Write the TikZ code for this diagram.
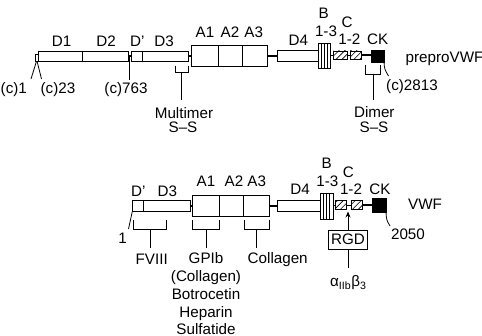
\documentclass[tikz,border=0pt]{standalone}
\usepackage{fontspec}
\setmainfont{Liberation Sans}
\usetikzlibrary{patterns.meta,arrows.meta}
\begin{document}
\begin{tikzpicture}[x=1pt,y=-1pt,
  dom/.style={draw, line width=0.8pt, rectangle, inner sep=0pt, outer sep=0pt, fill=white, anchor=north west},
  hatch/.style={dom, pattern={Lines[angle=45,distance=4.2pt,line width=0.6pt]}},
  lbl/.style={anchor=base, inner sep=0pt, font=\fontsize{15.2}{17}\selectfont},
  conn/.style={line width=2pt},
  thinl/.style={line width=0.8pt},
  lead/.style={line width=0.8pt}]
\useasboundingbox (0,0) rectangle (482,336);
% ================= preproVWF =================
\node[dom, minimum width=3.5pt, minimum height=7pt, line width=1pt] (sp) at (35,55) {};
\node[dom, minimum width=90pt, minimum height=10pt] (d12) at (38.5,51) {};
\node[dom, minimum width=57.3pt, minimum height=10pt] (dpd3) at (131,51) {};
\node[dom, minimum width=76pt, minimum height=21pt] (a) at (191.7,45.5) {};
\node[dom, minimum width=41.5pt, minimum height=11pt] (d4) at (277,50.5) {};
\node[dom, minimum width=12.2pt, minimum height=25pt] (b) at (318.5,43.5) {};
\node[hatch, minimum width=13.7pt, minimum height=8pt] (c1) at (333.3,51) {};
\node[hatch, minimum width=11.5pt, minimum height=8pt] (c2) at (350,51) {};
\node[dom, fill=black, minimum width=13pt, minimum height=12pt] (ck) at (371,50) {};
% dividers
\draw[thinl] (82.7,51) -- (82.7,61);
\draw[thinl] (142.3,51) -- (142.3,61);
\draw[thinl] (218.3,45.5) -- (218.3,66.5);
\draw[thinl] (242.3,45.5) -- (242.3,66.5);
\foreach \xx in {321.5,324.5,327.5} \draw[line width=1pt] (\xx,43.5) -- (\xx,68.5);
% connectors
\draw[conn] (d12.east) -- (dpd3.west);
\draw[conn] (dpd3.east) -- (a.west);
\draw[conn] (a.east) -- (a.east -| d4.west);
\draw[thinl] (b.east |- c1.west) -- (c1.west);
\draw[thinl] (c1.east) -- (c2.west);
\draw[conn] (c2.east) -- (c2.east -| ck.west);
% labels
\node[lbl] (tD1) at (61.7,46.7) {D1};
\node[lbl] (tD2) at (106,46.7) {D2};
\node[lbl] (tDp) at (137.3,46.7) {D'};
\node[lbl] (tD3) at (164,46.7) {D3};
\node[lbl] (tA1) at (205,37.3) {A1};
\node[lbl] (tA2) at (230,37.3) {A2};
\node[lbl] (tA3) at (253.7,37.3) {A3};
\node[lbl] (tD4) at (298.3,45.7) {D4};
\node[lbl] (tB) at (323.7,19) {B};
\node[lbl] (tB13) at (326,36.7) {1-3};
\node[lbl] (tC) at (347,27.7) {C};
\node[lbl] (tC12) at (349.3,45) {1-2};
\node[lbl] (tCK) at (377.7,45) {CK};
\node[lbl, anchor=base west] (tpre) at (405.5,62.3) {preproVWF};
% leaders and brackets
\coordinate (l1) at (31,79);
\coordinate (l23) at (41.5,79);
\draw[lead] (sp.south) ++(-0.5,0) -- (l1);
\draw[lead] (sp.south) ++(0.5,0) -- (l23);
\node[lbl, anchor=base west] (tc1) at (0.5,94) {(c)1};
\node[lbl] (tc23) at (58,94) {(c)23};
\coordinate (l763) at (129.5,80);
\draw[lead] (129.5,57) -- (l763);
\node[lbl] (tc763) at (126,94) {(c)763};
\coordinate (mstem) at (181.7,100);
\draw[lead] (175,66) -- (175,72.7) -- (188.3,72.7) -- (188.3,66);
\draw[lead] (181.7,72.7) -- (mstem);
\node[lbl] (tmul) at (184,118.3) {Multimer};
\node[lbl] (tmss) at (183,133) {S–S};
\coordinate (dstem) at (373,100);
\draw[lead] (365,65) -- (365,74) -- (380.5,74) -- (380.5,65);
\draw[lead] (373,74) -- (dstem);
\node[lbl] (tdim) at (374.3,117.7) {Dimer};
\node[lbl] (tdss) at (374,132.7) {S–S};
\coordinate (l2813) at (388.5,76);
\draw[lead] (ck.south east) .. controls (384.5,69) .. (l2813);
\node[lbl] (tc2813) at (412,91) {(c)2813};
% ================= VWF =================
\node[dom, minimum width=57.7pt, minimum height=11pt] (dpd3b) at (132.3,200.5) {};
\node[dom, minimum width=77pt, minimum height=21pt] (ab) at (192.3,195.5) {};
\node[dom, minimum width=42.8pt, minimum height=11pt] (d4b) at (277.7,200.5) {};
\node[dom, minimum width=12.5pt, minimum height=26pt] (bb) at (320.5,193) {};
\node[hatch, minimum width=11.7pt, minimum height=9pt] (c1b) at (335,200.5) {};
\node[hatch, minimum width=11pt, minimum height=9pt] (c2b) at (351.7,200.5) {};
\node[dom, fill=black, minimum width=13.3pt, minimum height=14pt] (ckb) at (372.7,198) {};
\draw[thinl] (143.3,200.5) -- (143.3,211.5);
\draw[thinl] (219.3,195.5) -- (219.3,216.5);
\draw[thinl] (243.3,195.5) -- (243.3,216.5);
\foreach \xx in {323.6,326.7,329.8} \draw[line width=1pt] (\xx,193) -- (\xx,219);
\draw[conn] (dpd3b.east) -- (ab.west);
\draw[conn] (ab.east) -- (ab.east -| d4b.west);
\draw[thinl] (bb.east |- c1b.west) -- (c1b.west);
\draw[thinl] (c1b.east) -- (c2b.west);
\draw[conn] (c2b.east) -- (c2b.east -| ckb.west);
\node[lbl] (bDp) at (138.3,196.7) {D'};
\node[lbl] (bD3) at (167.3,196.7) {D3};
\node[lbl] (bA1) at (206,186.7) {A1};
\node[lbl] (bA2) at (234,186.7) {A2};
\node[lbl] (bA3) at (256.7,186.7) {A3};
\node[lbl] (bD4) at (300,194.3) {D4};
\node[lbl] (bB) at (326.7,168.3) {B};
\node[lbl] (bB13) at (327.3,186.7) {1-3};
\node[lbl] (bC) at (348.3,177.7) {C};
\node[lbl] (bC12) at (351,195) {1-2};
\node[lbl] (bCK) at (380,194.3) {CK};
\node[lbl] (bVWF) at (425,210) {VWF};
% leaders
\coordinate (l1b) at (128.5,229);
\draw[lead] (dpd3b.south west) -- (l1b);
\node[lbl] (t1) at (122.7,243.3) {1};
\coordinate (fstem) at (150,248.3);
\draw[lead] (133.3,220) -- (133.3,229.3) -- (166.7,229.3) -- (166.7,220);
\draw[lead] (150,229.3) -- (fstem);
\node[lbl] (tf8) at (151.7,264.3) {FVIII};
\coordinate (gstem) at (206,248.3);
\draw[lead] (192.3,220) -- (192.3,229.3) -- (219.3,229.3) -- (219.3,220);
\draw[lead] (206,229.3) -- (gstem);
\node[lbl] (tg1) at (206,264) {GPIb};
\node[lbl] (tg2) at (206,281.7) {(Collagen)};
\node[lbl] (tg3) at (206,300) {Botrocetin};
\node[lbl] (tg4) at (206,317.3) {Heparin};
\node[lbl] (tg5) at (206,334.3) {Sulfatide};
\coordinate (cstem) at (256.7,248.3);
\draw[lead] (244,220) -- (244,229.3) -- (269.3,229.3) -- (269.3,220);
\draw[lead] (256.7,229.3) -- (cstem);
\node[lbl, anchor=base west] (tcol) at (247.5,264) {Collagen};
\node[draw, line width=0.8pt, rectangle, minimum width=38.3pt, minimum height=19pt, inner sep=0pt,
      font=\fontsize{15.2}{17}\selectfont] (rgd) at (348,239.5) {RGD};
\coordinate (rgdtip) at (348,211.5);
\draw[lead, -{Stealth[length=6pt,width=5pt]}] (rgd.north) -- (rgdtip);
\coordinate (ib) at (348,268.3);
\draw[lead] (rgd.south) -- (ib);
\node[lbl] (tab) at (348.3,286.7) {α\textsubscript{IIb}β\textsubscript{3}};
\coordinate (l2050) at (390,226);
\draw[lead] (ckb.south east) .. controls (386.5,220) .. (l2050);
\node[lbl] (t2050) at (408,240) {2050};
\end{tikzpicture}
\end{document}
